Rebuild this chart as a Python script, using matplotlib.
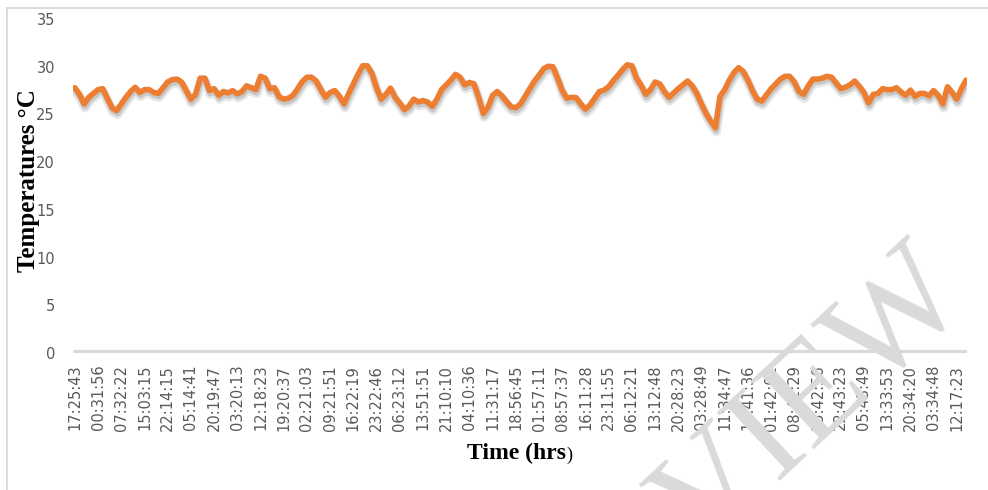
import matplotlib
matplotlib.use("Agg")
import matplotlib.pyplot as plt
import matplotlib.patheffects as pe
from matplotlib.lines import Line2D

# Temperature readings (°C), evenly spaced samples
temperature = [
    27.8, 27.1, 26.1, 26.8, 27.2, 27.6, 27.7, 26.7, 25.7, 25.4,
    26.1, 26.8, 27.4, 27.85, 27.3, 27.6, 27.6, 27.3, 27.2, 27.8,
    28.4, 28.65, 28.7, 28.4, 27.5, 26.6, 27.1, 28.8, 28.8, 27.5,
    27.7, 27.0, 27.4, 27.25, 27.5, 27.15, 27.4, 28.0, 27.8, 27.6,
    29.0, 28.8, 27.7, 27.8, 26.85, 26.6, 26.7, 27.0, 27.7, 28.45,
    28.9, 28.9, 28.5, 27.6, 26.8, 27.3, 27.5, 26.9, 26.1, 27.2,
    28.2, 29.2, 30.1, 30.1, 29.3, 27.8, 26.6, 27.1, 27.75, 26.8,
    26.2, 25.5, 25.9, 26.6, 26.3, 26.45, 26.3, 25.85, 26.6, 27.6,
    28.1, 28.6, 29.2, 28.9, 28.1, 28.35, 28.2, 26.8, 25.1, 25.75,
    27.0, 27.4, 26.95, 26.35, 25.8, 25.7, 26.1, 26.9, 27.7, 28.5,
    29.1, 29.8, 30.05, 30.0, 28.8, 27.5, 26.7, 26.8, 26.75, 26.1,
    25.55, 26.0, 26.7, 27.4, 27.55, 27.9, 28.55, 29.1, 29.7, 30.2,
    30.1, 28.8, 28.05, 27.1, 27.6, 28.4, 28.2, 27.4, 26.8, 27.25,
    27.7, 28.1, 28.5, 28.0, 27.2, 26.1, 25.1, 24.3, 23.6, 26.9,
    27.6, 28.6, 29.4, 29.9, 29.5, 28.6, 27.5, 26.6, 26.4, 27.05,
    27.7, 28.2, 28.7, 29.0, 29.0, 28.4, 27.4, 27.1, 28.0, 28.7,
    28.7, 28.8, 29.0, 28.9, 28.3, 27.7, 27.85, 28.1, 28.5, 27.95,
    27.3, 26.2, 27.1, 27.2, 27.7, 27.6, 27.6, 27.8, 27.35, 27.0,
    27.55, 26.9, 27.2, 27.2, 26.95, 27.5, 27.0, 26.1, 27.9, 27.3,
    26.6, 27.7, 28.6,
]

# Time-of-day labels shown along the category axis (every 5th sample)
time_labels = [
    "17:25:43", "00:31:56", "07:32:22", "15:03:15", "22:14:15", "05:14:41",
    "20:19:47", "03:20:13", "12:18:23", "19:20:37", "02:21:03", "09:21:51",
    "16:22:19", "23:22:46", "06:23:12", "13:51:51", "21:10:10", "04:10:36",
    "11:31:17", "18:56:45", "01:57:11", "08:57:37", "16:11:28", "23:11:55",
    "06:12:21", "13:12:48", "20:28:23", "03:28:49", "11:34:47", "18:41:36",
    "01:42:02", "08:42:29", "15:42:56", "22:43:23", "05:43:49", "13:33:53",
    "20:34:20", "03:34:48", "12:17:23",
]
label_step = 5

y_ticks = [0, 5, 10, 15, 20, 25, 30, 35]

W, H = 988, 490
fig = plt.figure(figsize=(W / 100, H / 100), dpi=100)
fig.patch.set_facecolor("white")

# chart-area border (top and left edges)
border = "#D9D9D9"
fig.add_artist(Line2D([7 / W, 1.0], [1 - 8 / H, 1 - 8 / H], transform=fig.transFigure,
                      color=border, lw=1.3))
fig.add_artist(Line2D([7 / W, 7 / W], [0.0, 1 - 8 / H], transform=fig.transFigure,
                      color=border, lw=1.3))

ax = fig.add_axes([73 / W, 1 - 353 / H, 894 / W, 334 / H])
ax.set_facecolor("none")

x = list(range(len(temperature)))

# thick horizontal category axis at zero
ax.axhline(0, color="#D9D9D9", lw=5.2, solid_capstyle="butt", zorder=1)

ax.plot(x, temperature, color="#ED7D31", lw=4.0, solid_joinstyle="round",
        solid_capstyle="round", zorder=3,
        path_effects=[
            pe.SimpleLineShadow(offset=(0.6, -2.6), shadow_color="#7f7f7f", alpha=0.18, linewidth=7.0),
            pe.SimpleLineShadow(offset=(0.5, -2.0), shadow_color="#7f7f7f", alpha=0.30, linewidth=4.6),
            pe.Normal(),
        ])

ax.set_xlim(-0.4, len(temperature) - 0.8)
ax.set_ylim(0, 35)

tick_pos = list(range(0, label_step * len(time_labels), label_step))
ax.set_xticks(tick_pos)
ax.set_xticklabels(time_labels, rotation=90, fontsize=10.5, color="#595959")
ax.set_yticks(y_ticks)
ax.set_yticklabels([str(v) for v in y_ticks], fontsize=10.5, color="#595959")
ax.tick_params(axis="x", length=0, pad=8.5)
ax.tick_params(axis="y", length=0, pad=13)
for s in ax.spines.values():
    s.set_visible(False)

serif = "Liberation Serif"
fig.text(28 / W, 1 - 181 / H, "Temperatures °C", rotation=90, ha="center", va="center",
         fontsize=18, fontweight="bold", family=serif, color="black")
fig.text(566 / W, 1 - 453 / H, "Time (hrs", ha="right", va="center",
         fontsize=17, fontweight="bold", family=serif, color="black")
fig.text(566 / W, 1 - 455 / H, ")", ha="left", va="center",
         fontsize=13, family=serif, color="black")

# diagonal watermark
fig.text(972 / W, 1 - 298 / H, "PREVIEW", rotation=43, rotation_mode="anchor",
         ha="right", va="baseline", fontsize=102, family=serif, color="#DADADA",
         zorder=0)

fig.savefig("out.png", dpi=100, facecolor="white")
